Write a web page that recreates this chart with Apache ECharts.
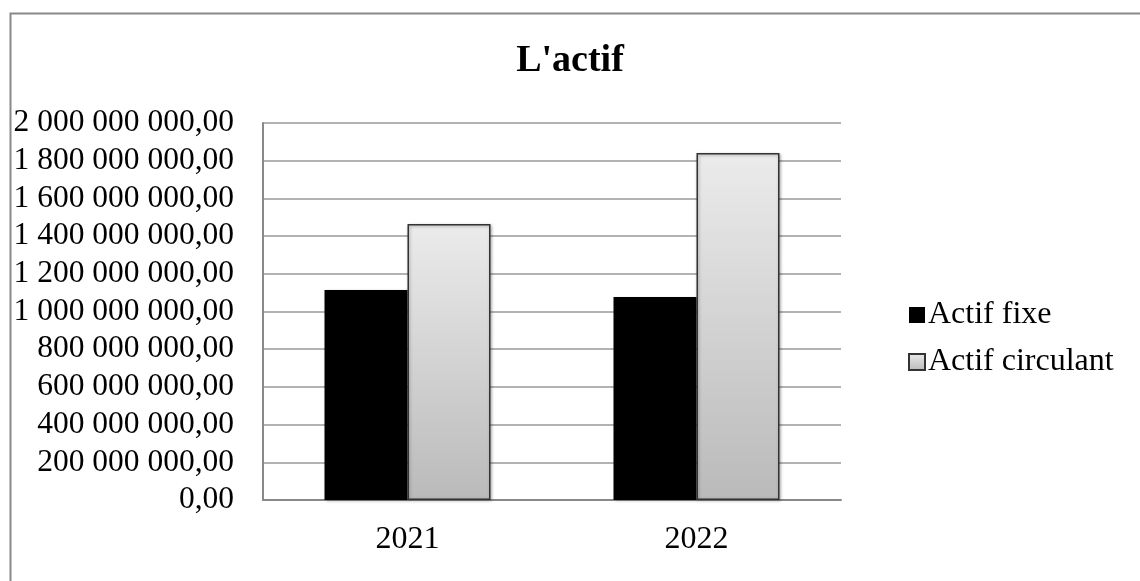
<!DOCTYPE html>
<html>
<head>
<meta charset="utf-8">
<script src="https://cdn.jsdelivr.net/npm/echarts@6/dist/echarts.min.js"></script>
<style>
  html, body { margin: 0; padding: 0; background: #fff; }
  #chartmain { width: 1140px; height: 581px; }
</style>
</head>
<body>
<div id="chartmain"></div>
<script>
var years = ['2021', '2022'];
var actifFixe = [1114000000, 1077000000];
var actifCirculant = [1464000000, 1841000000];
var yMin = 0, yMax = 2000000000, yStep = 200000000;

var serif = '"Liberation Serif", "DejaVu Serif", serif';

function fmt(v) {
    return String(Math.round(v)).replace(/\B(?=(\d{3})+(?!\d))/g, ' ') + ',00';
}

window.onload = function () {
    var option = {
        backgroundColor: '#fff',
        animation: false,
        title: {
            text: "L'actif",
            left: 'center',
            top: 37,
            textStyle: { fontFamily: serif, fontSize: 38, fontWeight: 'bold', color: '#000' }
        },
        graphic: [{
            type: 'rect',
            left: 8, top: 11,
            shape: { width: 1200, height: 700 },
            style: { fill: 'none', stroke: '#888', lineWidth: 2 },
            silent: true
        }],
        legend: {
            orient: 'vertical',
            left: 903,
            top: 294,
            itemWidth: 16,
            itemHeight: 16,
            itemGap: 15,
            icon: 'rect',
            textStyle: { fontFamily: serif, fontSize: 32, color: '#000', padding: [0, 0, 0, -2] },
            data: ['Actif fixe', 'Actif circulant']
        },
        grid: { left: 263, right: 299, top: 123, bottom: 81 },
        xAxis: {
            type: 'category',
            data: years,
            axisTick: { show: false },
            axisLine: { lineStyle: { color: '#888', width: 2 } },
            axisLabel: { fontFamily: serif, fontSize: 32, color: '#000', margin: 24 }
        },
        yAxis: {
            type: 'value',
            min: yMin, max: yMax, interval: yStep,
            axisLine: { show: true, lineStyle: { color: '#888', width: 2 } },
            axisTick: { show: false },
            splitLine: { lineStyle: { color: '#999', width: 1.5 } },
            axisLabel: { fontFamily: serif, fontSize: 31.5, color: '#000', margin: 29, formatter: fmt }
        },
        series: [
            {
                name: 'Actif fixe',
                type: 'bar',
                data: actifFixe,
                barWidth: 83,
                barGap: '0%',
                itemStyle: {
                    color: '#000',
                    shadowBlur: 3, shadowColor: 'rgba(0,0,0,0.3)', shadowOffsetX: 1, shadowOffsetY: 1
                }
            },
            {
                name: 'Actif circulant',
                type: 'bar',
                data: actifCirculant,
                barWidth: 83,
                barGap: '0%',
                itemStyle: {
                    color: {
                        type: 'linear', x: 0, y: 0, x2: 0, y2: 1,
                        colorStops: [{ offset: 0, color: '#ebebeb' }, { offset: 1, color: '#bababa' }]
                    },
                    borderColor: '#333',
                    borderWidth: 1.5,
                    shadowBlur: 3, shadowColor: 'rgba(0,0,0,0.3)', shadowOffsetX: 1, shadowOffsetY: 1
                }
            }
        ]
    };
    var myChart = echarts.init(document.getElementById('chartmain'));
    myChart.setOption(option);
};
</script>
</body>
</html>
